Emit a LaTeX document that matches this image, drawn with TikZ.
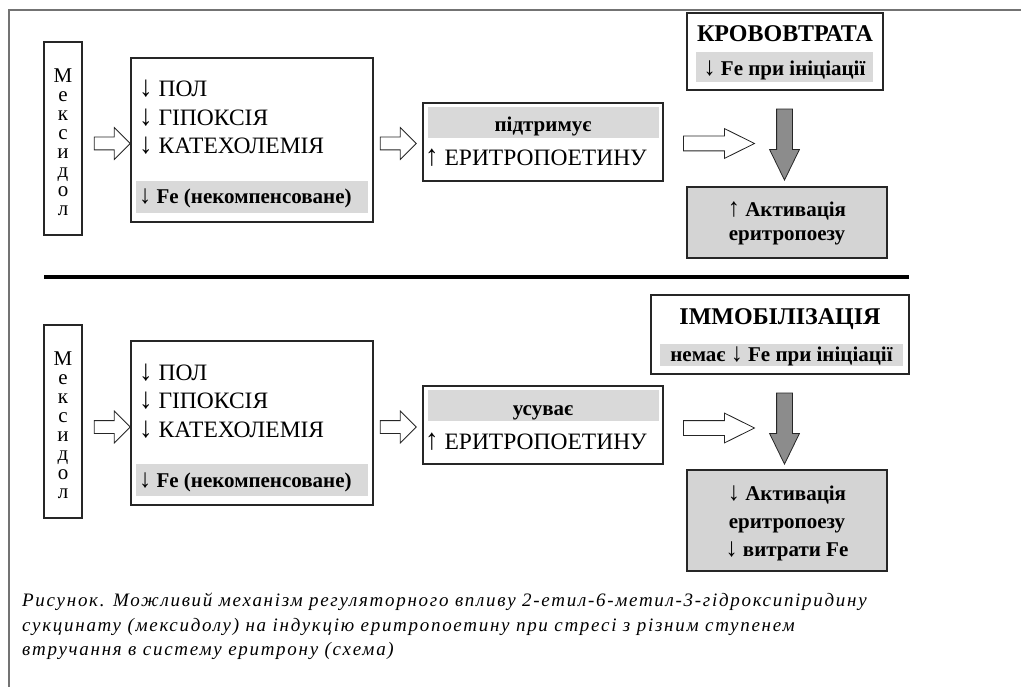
\documentclass[tikz,border=0pt]{standalone}
\usepackage{fontspec}
\setmainfont{Liberation Serif}
\newfontfamily\capfont{Liberation Serif}[LetterSpace=9]
\usetikzlibrary{shapes.arrows}
\newcommand{\dn}{{\mdseries\scalebox{1.15}[1.25]{↓}}}
\newcommand{\upp}{{\mdseries\scalebox{1.15}[1.25]{↑}}}

\begin{document}
\begin{tikzpicture}[x=1pt, y=-1pt,
  box/.style={draw=black!85, line width=1.1pt, fill=white, inner sep=0pt},
  grey box/.style={box, fill=black!17},
  band/.style={fill=black!15, inner sep=0pt},
  txt/.style={inner sep=0pt, anchor=base west, font=\fontsize{23.5}{27}\selectfont},
  bold txt/.style={inner sep=0pt, anchor=base, font=\fontsize{21}{25}\selectfont\bfseries},
  title/.style={bold txt, font=\fontsize{24}{28}\selectfont\bfseries},
  letter/.style={inner sep=0pt, anchor=base, text height=10pt, text depth=1pt, font=\fontsize{21}{21}\selectfont},
  hollow/.style={single arrow, draw=black!85, fill=white, line width=0.8pt, inner sep=6pt,
    minimum height=36pt, single arrow head extend=9.5pt, single arrow tip angle=90},
  long hollow/.style={hollow, inner sep=7pt, minimum height=71pt,
    single arrow head extend=7.5pt, single arrow tip angle=53},
  heavy/.style={single arrow, draw=black!85, fill=black!45, line width=0.8pt, inner sep=7.5pt,
    minimum height=71pt, single arrow head extend=7pt, single arrow tip angle=52, shape border rotate=270},
  caption/.style={inner sep=0pt, anchor=north west, align=left, font=\capfont\itshape\fontsize{19}{24.5}\selectfont}]
\useasboundingbox (0,0) rectangle (1021,687);
\draw[black!55, line width=1.2pt] (1021,10) -- (9,10) -- (9,687);

% upper scheme: blood loss
\node[box, minimum width=38pt, minimum height=193pt] (mex1) at (63,138.5) {};
\foreach \l [count=\i] in {М,е,к,с,и,д,о,л}
  \node[letter] (mexa\i) at (63,64+18.9*\i) {\l};
\node[hollow] (h1) at (109,143.5) {};
\node[box, minimum width=242pt, minimum height=164pt] (core1) at (252,140) {};
\node[txt] at (139,97) {\dn\ ПОЛ};
\node[txt] at (139,125.5) {\dn\ ГІПОКСІЯ};
\node[txt] at (139,154) {\dn\ КАТЕХОЛЕМІЯ};
\node[band, minimum width=232pt, minimum height=32pt] (fe1) at (252,197) {};
\node[bold txt, anchor=base west] at (139,204) {\dn\ Fe (некомпенсоване)};
\node[hollow] (h2) at (395,143.5) {};
\node[box, minimum width=240pt, minimum height=78pt] (epo1) at (543,142) {};
\node[band, minimum width=231pt, minimum height=31pt] (sup1) at (543,122.5) {};
\node[bold txt] at (543,132) {підтримує};
\node[txt] at (425,166) {\upp\ ЕРИТРОПОЕТИНУ};
\node[long hollow] (h3) at (711.5,143.5) {};
\node[box, minimum width=196pt, minimum height=77pt] (loss) at (785,51.5) {};
\node[title] at (785,41.5) {КРОВОВТРАТА};
\node[band, minimum width=177pt, minimum height=30pt] (init1) at (784.5,67) {};
\node[bold txt] at (784.5,76) {\dn\ Fe при ініціації};
\node[heavy] (down1) at (784.5,136.5) {};
\node[grey box, minimum width=200pt, minimum height=71pt] (ery1) at (787,222.5) {};
\node[bold txt] at (787,217) {\upp\ Активація};
\node[bold txt] at (787,241) {еритропоезу};

\draw[line width=4.5pt] (44,277) -- (909,277);

% lower scheme: immobilisation
\node[box, minimum width=38pt, minimum height=193pt] (mex2) at (63,421.5) {};
\foreach \l [count=\i] in {М,е,к,с,и,д,о,л}
  \node[letter] (mexb\i) at (63,347+18.9*\i) {\l};
\node[hollow] (h4) at (109,427) {};
\node[box, minimum width=242pt, minimum height=164pt] (core2) at (252,423) {};
\node[txt] at (139,380) {\dn\ ПОЛ};
\node[txt] at (139,408.5) {\dn\ ГІПОКСІЯ};
\node[txt] at (139,437) {\dn\ КАТЕХОЛЕМІЯ};
\node[band, minimum width=232pt, minimum height=32pt] (fe2) at (252,480) {};
\node[bold txt, anchor=base west] at (139,487) {\dn\ Fe (некомпенсоване)};
\node[hollow] (h5) at (395,427) {};
\node[box, minimum width=240pt, minimum height=78pt] (epo2) at (543,425) {};
\node[band, minimum width=231pt, minimum height=31pt] (sup2) at (543,405.5) {};
\node[bold txt] at (543,415) {усуває};
\node[txt] at (425,449) {\upp\ ЕРИТРОПОЕТИНУ};
\node[long hollow] (h6) at (711.5,428) {};
\node[box, minimum width=258pt, minimum height=79pt] (immob) at (780,334.5) {};
\node[title] at (780,325) {ІММОБІЛІЗАЦІЯ};
\node[band, minimum width=243pt, minimum height=22pt] (init2) at (781.5,355) {};
\node[bold txt] at (781.5,362) {немає \dn\ Fe при ініціації};
\node[heavy] (down2) at (784.5,420.5) {};
\node[grey box, minimum width=200pt, minimum height=101pt] (ery2) at (787,520.5) {};
\node[bold txt] at (787,500) {\dn\ Активація};
\node[bold txt] at (787,528) {еритропоезу};
\node[bold txt] at (787,556) {\dn\ витрати Fe};

\node[caption] (cap) at (22,593) {Рисунок. Можливий механізм регуляторного впливу 2-етил-6-метил-3-гідроксипіридину\\
сукцинату (мексидолу) на індукцію еритропоетину при стресі з різним ступенем\\
втручання в систему еритрону (схема)};
\end{tikzpicture}
\end{document}
